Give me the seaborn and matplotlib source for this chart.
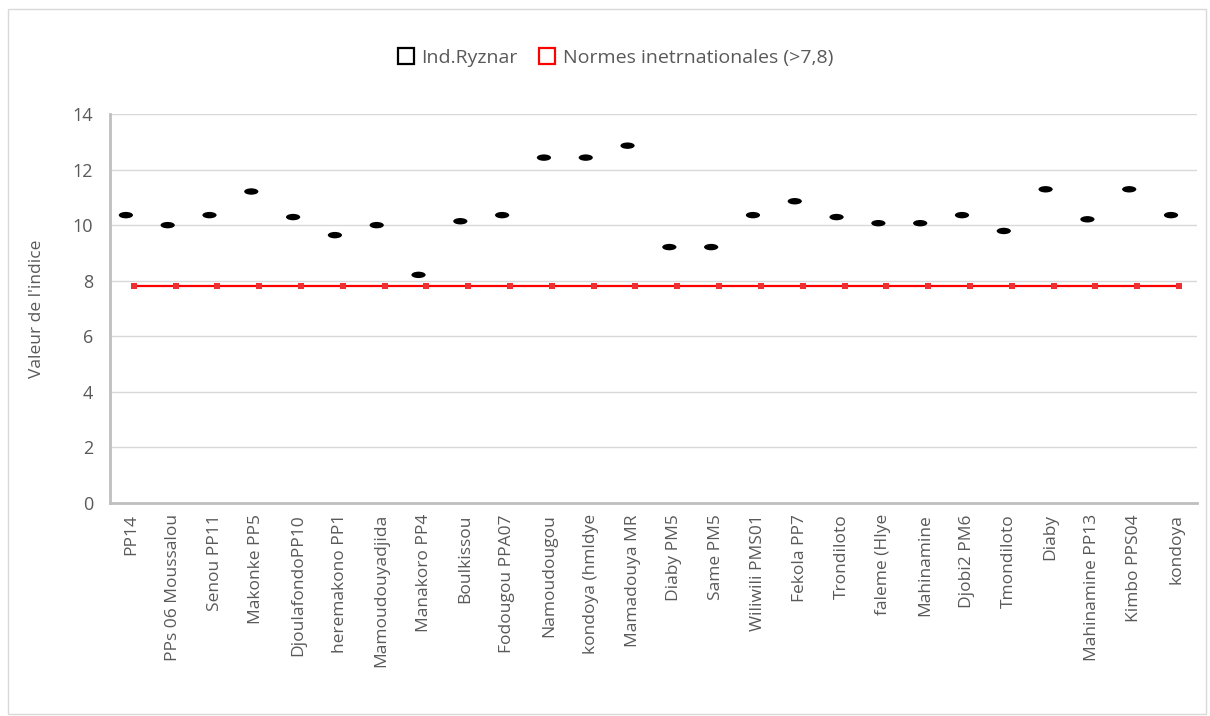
import numpy as np
import pandas as pd
import seaborn as sns
import matplotlib.pyplot as plt
from matplotlib.path import Path
from matplotlib.lines import Line2D
from matplotlib.patches import Rectangle

# data
sites = ["PP14", "PPs 06 Moussalou", "Senou PP11", "Makonke PP5", "DjoulafondoPP10",
         "heremakono PP1", "Mamoudouyadjida", "Manakoro PP4", "Boulkissou",
         "Fodougou PPA07", "Namoudougou", "kondoya (hmldye", "Mamadouya MR",
         "Diaby PM5", "Same PM5", "Wiliwili PMS01", "Fekola PP7", "Trondiloto",
         "faleme (Hlye", "Mahinamine", "Djobi2 PM6", "Tmondiloto", "Diaby",
         "Mahinamine PP13", "Kimbo PPS04", "kondoya"]
ryznar = [10.36, 10.0, 10.36, 11.21, 10.29, 9.64, 10.0, 8.21, 10.14, 10.36,
          12.43, 12.43, 12.86, 9.21, 9.21, 10.36, 10.86, 10.29, 10.07, 10.07,
          10.36, 9.79, 11.29, 10.21, 11.29, 10.36]
norme = [7.8] * len(sites)
yticks = [0, 2, 4, 6, 8, 10, 12, 14]

grey = "#595959"
sns.set_style("white")
plt.rcParams["font.family"] = ["Open Sans", "DejaVu Sans"]

df = pd.DataFrame({"site": sites, "ryznar": ryznar, "norme": norme})
df["pos"] = np.arange(len(sites))

fig = plt.figure(figsize=(12.1, 7.16), dpi=100)
ax = fig.add_axes([0.0909, 0.2975, 0.8983, 0.5433])

# flat ellipse marker like the Excel one
circ = Path.unit_circle()
ellipse = Path(circ.vertices * [1.0, 0.45], circ.codes)

sns.lineplot(x=df["pos"] + 0.07, y=df["norme"], ax=ax, color="#ff0000", lw=1.6,
             marker="s", markersize=4, markeredgewidth=0, markerfacecolor="#f03030",
             zorder=2)
sns.scatterplot(x=df["pos"] - 0.12, y=df["ryznar"], ax=ax, marker=ellipse,
                s=105, color="black", edgecolor="none", zorder=3)

ax.set_xlim(-0.5, len(sites) - 0.5)
ax.set_ylim(0, 14)
ax.set_yticks(yticks)
ax.set_xticks(df["pos"])
ax.set_xticklabels(sites, rotation=90, fontsize=12.5, color=grey)
ax.tick_params(axis="y", labelsize=13, colors=grey, length=0, pad=12)
ax.tick_params(axis="x", length=0, pad=8)
ax.grid(axis="y", color="#d9d9d9", lw=1)
ax.set_axisbelow(True)
for s in ["top", "right"]:
    ax.spines[s].set_visible(False)
for s in ["left", "bottom"]:
    ax.spines[s].set_color("#bfbfbf")
    ax.spines[s].set_linewidth(2)
ax.set_xlabel("")
ax.set_ylabel("Valeur de l'indice", fontsize=12.5, color=grey, labelpad=20)

handles = [Line2D([], [], ls="none", marker="s", markersize=12, markerfacecolor="white",
                  markeredgecolor="black", markeredgewidth=1.6),
           Line2D([], [], ls="none", marker="s", markersize=12, markerfacecolor="white",
                  markeredgecolor="#ff0000", markeredgewidth=1.6)]
fig.legend(handles, ["Ind.Ryznar", "Normes inetrnationales (>7,8)"], loc="center",
           bbox_to_anchor=(0.508, 0.919), ncol=2, frameon=False, fontsize=14,
           labelcolor=grey, handletextpad=0.3, columnspacing=1.0, handlelength=1)

fig.patches.append(Rectangle((0.007, 0.003), 0.99, 0.985, transform=fig.transFigure,
                             fill=False, edgecolor="#d9d9d9", lw=1))

fig.savefig("out.png", dpi=100)
